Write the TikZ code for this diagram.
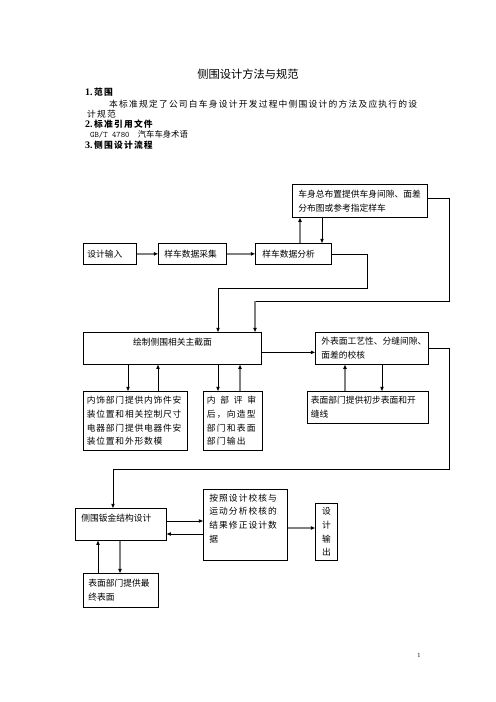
\documentclass[tikz,border=0pt]{standalone}
\usepackage{fontspec}
\setmainfont{Noto Sans CJK SC}
\newfontfamily\tnr{Liberation Serif}
\usetikzlibrary{arrows.meta}

\begin{document}
\begin{tikzpicture}
[x=1.2pt,y=-1.2pt,
 every node/.style={inner sep=0pt},
 head/.style={anchor=west,font=\fontsize{10.5}{12}\selectfont\bfseries\addfontfeature{LetterSpace=14}},
 body/.style={anchor=west,font=\fontsize{10.5}{12}\selectfont\addfontfeature{LetterSpace=14}},
 box/.style={draw,line width=0.9pt,anchor=north west,inner ysep=0pt,align=left,
             font=\fontsize{10.5}{16.5}\selectfont},
 wh/.style n args={3}{minimum width=#1*1.2pt,minimum height=#2*1.2pt,
             inner xsep=#3*1.2pt,text width=#1*1.2pt-#3*2.4pt},
 spaced/.style={font=\fontsize{10.5}{16.5}\selectfont\addfontfeature{LetterSpace=#1}},
 link/.style={line width=0.9pt,-{Triangle[length=5pt,width=4pt]}},
 glink/.style={line width=1.8pt,gray,-{Triangle[length=5pt,width=4pt,color=black]}},
 wire/.style={line width=0.9pt}]
\useasboundingbox (0,0) rectangle (496,702);

% page text
\node[font=\fontsize{13.5}{16}\selectfont] (title) at (248,74) {侧围设计方法与规范};
\node[head] (sec1) at (85,92) {{\tnr\fontsize{12}{14}\selectfont 1.}\,范围};
\node[body] (scope1) at (109,104) {本标准规定了公司白车身设计开发过程中侧围设计的方法及应执行的设};
\node[body] (scope2) at (87,114) {计规范};
\node[head] (sec2) at (85,124) {{\tnr\fontsize{12}{14}\selectfont 2.}\,标准引用文件};
\node[body,font=\fontsize{10}{12}\selectfont] (std) at (90,134)
  {{\ttfamily\fontsize{10}{12}\selectfont GB/T 4780}\hspace{10pt}汽车车身术语};
\node[head] (sec3) at (85,145) {{\tnr\fontsize{12}{14}\selectfont 3.}\,侧围设计流程};
\node[font=\fontsize{7.5}{9}\selectfont\tnr] (page) at (419,655) {1};

% boxes
\node[box,wh={135}{33}{6}] (layout) at (292,184) {车身总布置提供车身间隙、面差\\分布图或参考指定样车};
\node[box,wh={53}{21}{4}] (input) at (83,243) {设计输入};
\node[box,wh={68}{21}{6}] (sample) at (158,243) {样车数据采集};
\node[box,wh={76}{21}{7}] (analysis) at (255,243) {样车数据分析};
\node[box,wh={178}{32}{4},align=center] (section) at (83,332) {绘制侧围相关主截面\\\mbox{}};
\node[box,wh={113}{32}{6}] (check) at (315,332) {外表面工艺性、分缝间隙、\\面差的校核};
\node[box,wh={104}{59}{3.5},spaced=9] (trim) at (83,391)
  {内饰部门提供内饰件安\\装位置和相关控制尺寸\\电器部门提供电器件安\\装位置和外形数模};
\node[box,wh={59}{59}{3.5},spaced=14] (review) at (203,391)
  {{\addfontfeature{LetterSpace=54}内部评审}\\后，向造型\\部门和表面\\部门输出};
\node[box,wh={121}{32}{3.5}] (prelim) at (307,391) {表面部门提供初步表面和开\\缝线};
\node[box,wh={91}{32}{6}] (sheet) at (75,508) {侧围钣金结构设计\\\mbox{}};
\node[box,wh={84}{71}{6},spaced=12] (revise) at (203,489)
  {按照设计校核与\\运动分析校核的\\结果修正设计数\\据\\\mbox{}};
\node[box,wh={22}{57}{0},align=center] (output) at (315,503) {设\\计\\输\\出};
\node[box,wh={75}{34}{5}] (final) at (83,573) {表面部门提供最\\终表面};

% connectors
\draw[glink] (input) -- (sample);
\draw[glink] (sample) -- (analysis);
\draw[glink] (analysis.north -| 300,0) -- (layout.south -| 300,0);
\draw[link] (layout.south -| 322,0) -- (analysis.north -| 322,0);
\draw[link] (analysis.east) -- ++(36,0) |- (218,288) -- (section.north -| 218,0);
\coordinate (turn) at (255,301);
\draw[wire] ([yshift=3.6pt]layout.east) -| (449,301) -- (turn);
\draw[glink] (turn) -- (section.north -| turn);
\draw[link] ([yshift=-4.8pt]section.east) -- ([yshift=-4.8pt]check.west);
\draw[link] (check.east) -| (449,469) -| (sheet.north -| 113,0);
\draw[link] (section.south -| 128,0) -- (trim.north -| 128,0);
\draw[link] (trim.north -| 158,0) -- (section.south -| 158,0);
\draw[link] (section.south -| 218,0) -- (review.north -| 218,0);
\draw[glink] (review.north -| 240,0) -- (section.south -| 240,0);
\draw[glink] (prelim.north -| 345,0) -- (check.south -| 345,0);
\draw[link] (check.south -| 382,0) -- (prelim.north -| 382,0);
\draw[link] (sheet.east |- 0,521) -- (revise.west |- 0,521);
\draw[link] (revise.west |- 0,534) -- (sheet.east |- 0,534);
\draw[glink] (revise.east |- 0,528) -- (output.west |- 0,528);
\draw[link] (final.north -| 98,0) -- (sheet.south -| 98,0);
\draw[glink] (sheet.south -| 120,0) -- (final.north -| 120,0);
\end{tikzpicture}
\end{document}
